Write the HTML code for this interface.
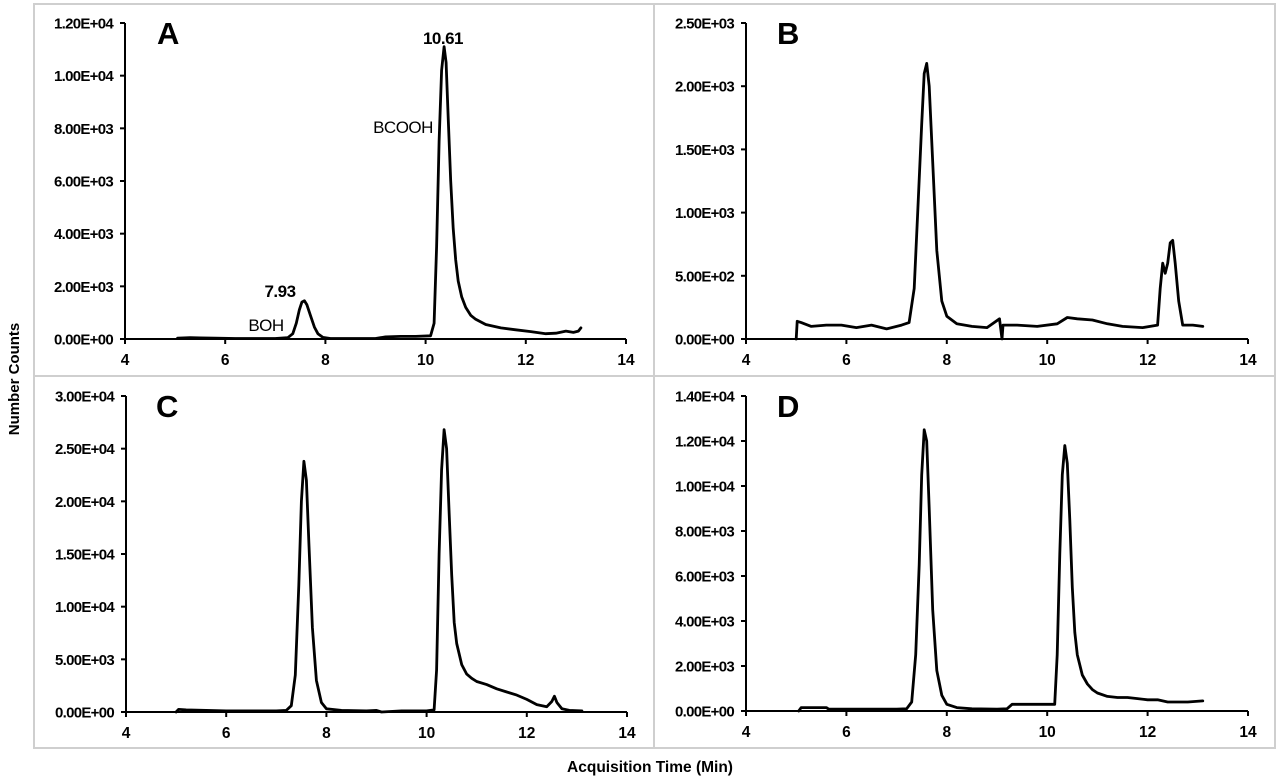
<!DOCTYPE html>
<html><head><meta charset="utf-8"><style>
html,body{margin:0;padding:0;background:#fff}
svg{display:block;font-family:"Liberation Sans",Arial,sans-serif}
</style></head><body>
<svg id="fig" width="1280" height="784" viewBox="0 0 1280 784">
<rect x="0" y="0" width="1280" height="784" fill="#fff"/>
<rect x="34" y="4" width="620" height="372" fill="#fff" stroke="#cfcfcf" stroke-width="2"/>
<rect x="654" y="4" width="621" height="372" fill="#fff" stroke="#cfcfcf" stroke-width="2"/>
<rect x="34" y="376" width="620" height="372" fill="#fff" stroke="#cfcfcf" stroke-width="2"/>
<rect x="654" y="376" width="621" height="372" fill="#fff" stroke="#cfcfcf" stroke-width="2"/>
<text x="15" y="379" transform="rotate(-90 15 379)" text-anchor="middle" dominant-baseline="middle" font-size="15" font-weight="bold">Number Counts</text>
<text x="650" y="772" text-anchor="middle" font-size="15.5" font-weight="bold">Acquisition  Time (Min)</text>
<g id="plots"></g>
</svg>
<script>
const xTickValues = [4, 6, 8, 10, 12, 14];
const xTickLabels = ["4", "6", "8", "10", "12", "14"];

const yTicksA = [0, 2000, 4000, 6000, 8000, 10000, 12000];
const yLabelsA = ["0.00E+00","2.00E+03","4.00E+03","6.00E+03","8.00E+03","1.00E+04","1.20E+04"];
const yTicksB = [0, 500, 1000, 1500, 2000, 2500];
const yLabelsB = ["0.00E+00","5.00E+02","1.00E+03","1.50E+03","2.00E+03","2.50E+03"];
const yTicksC = [0, 5000, 10000, 15000, 20000, 25000, 30000];
const yLabelsC = ["0.00E+00","5.00E+03","1.00E+04","1.50E+04","2.00E+04","2.50E+04","3.00E+04"];
const yTicksD = [0, 2000, 4000, 6000, 8000, 10000, 12000, 14000];
const yLabelsD = ["0.00E+00","2.00E+03","4.00E+03","6.00E+03","8.00E+03","1.00E+04","1.20E+04","1.40E+04"];

const timeA = [5.05,5.3,5.5,5.8,6.2,6.6,7.0,7.25,7.35,7.42,7.48,7.53,7.58,7.63,7.7,7.78,7.85,7.95,8.1,8.5,9.0,9.2,9.5,9.8,10.1,10.17,10.22,10.27,10.32,10.37,10.41,10.45,10.5,10.55,10.6,10.65,10.72,10.8,10.9,11.0,11.2,11.5,11.8,12.1,12.4,12.6,12.8,12.95,13.05,13.1];
const countsA = [30,50,40,30,20,20,20,50,200,600,1100,1400,1450,1300,900,450,200,60,20,20,20,80,100,100,120,600,3500,7500,10200,11100,10500,8500,6000,4200,3000,2200,1600,1200,900,750,550,420,350,280,200,220,300,250,300,420];

const timeB = [5.0,5.02,5.1,5.3,5.6,5.9,6.2,6.5,6.8,7.1,7.25,7.35,7.42,7.5,7.55,7.6,7.65,7.72,7.8,7.9,8.0,8.2,8.5,8.8,9.05,9.1,9.12,9.15,9.4,9.8,10.2,10.4,10.6,10.9,11.2,11.5,11.9,12.2,12.25,12.3,12.35,12.4,12.45,12.5,12.55,12.62,12.7,12.9,13.1];
const countsB = [0,140,130,100,110,110,90,110,80,110,130,400,1000,1700,2100,2180,2000,1400,700,300,180,120,100,90,160,0,110,110,110,100,120,170,160,150,120,100,90,110,400,600,520,600,760,780,600,300,110,110,100];

const timeC = [5.0,5.05,5.2,5.6,6.0,6.5,7.0,7.2,7.3,7.38,7.45,7.5,7.55,7.6,7.65,7.72,7.8,7.9,8.0,8.3,8.8,9.0,9.1,9.5,10.0,10.15,10.2,10.25,10.3,10.35,10.4,10.45,10.5,10.55,10.6,10.7,10.8,10.9,11.0,11.2,11.4,11.6,11.8,12.0,12.2,12.4,12.5,12.55,12.6,12.7,12.85,13.1];
const countsC = [0,250,200,150,100,100,100,150,600,3500,12000,20000,23800,22000,16000,8000,3000,900,300,150,100,150,0,100,100,200,4000,15000,23000,26800,25000,19000,13000,8500,6500,4500,3600,3200,2900,2600,2200,1900,1600,1200,700,500,1000,1500,900,300,150,100];

const timeD = [5.05,5.1,5.2,5.6,5.65,6.0,6.5,7.0,7.2,7.3,7.38,7.45,7.5,7.55,7.6,7.65,7.72,7.8,7.9,8.0,8.2,8.5,9.0,9.2,9.3,9.6,10.0,10.15,10.2,10.25,10.3,10.35,10.4,10.45,10.5,10.55,10.6,10.7,10.8,10.9,11.0,11.2,11.4,11.6,11.8,12.0,12.2,12.4,12.8,13.1];
const countsD = [0,150,150,150,80,80,80,80,100,400,2500,6500,10500,12500,12000,9000,4500,1800,700,300,150,100,80,100,300,300,300,300,2500,7000,10500,11800,11000,8500,5500,3500,2500,1600,1200,950,800,650,600,600,550,500,500,400,400,450];

const NS = "http://www.w3.org/2000/svg";
const root = document.getElementById("plots");
function mk(tag, attrs, parent) {
  const e = document.createElementNS(NS, tag);
  for (const k in attrs) e.setAttribute(k, attrs[k]);
  (parent || root).appendChild(e);
  return e;
}

const panels = [
  {id:"a", letter:"A", px0:125, px1:626, py0:339, py1:23, ymax:12000, yt:yTicksA, yl:yLabelsA, t:timeA, c:countsA, lx:157, ly:44},
  {id:"b", letter:"B", px0:746, px1:1248, py0:339, py1:23, ymax:2500, yt:yTicksB, yl:yLabelsB, t:timeB, c:countsB, lx:777, ly:44},
  {id:"c", letter:"C", px0:126, px1:627, py0:712, py1:396, ymax:30000, yt:yTicksC, yl:yLabelsC, t:timeC, c:countsC, lx:156, ly:417},
  {id:"d", letter:"D", px0:746, px1:1248, py0:711, py1:396, ymax:14000, yt:yTicksD, yl:yLabelsD, t:timeD, c:countsD, lx:777, ly:417}
];

panels.forEach(p => {
  const g = mk("g", {});
  
  
  const xs = v => p.px0 + (v - 4) / 10 * (p.px1 - p.px0);
  const ys = v => p.py0 - v / p.ymax * (p.py0 - p.py1);

  const ya = mk("line", {x1:p.px0, y1:p.py1, x2:p.px0, y2:p.py0, stroke:"#000", "stroke-width":2}, g);
  
  
  const xa = mk("line", {x1:p.px0, y1:p.py0, x2:p.px1, y2:p.py0, stroke:"#000", "stroke-width":2}, g);
  
  

  p.yt.forEach((v, i) => {
    const y = ys(v);
    mk("line", {x1:p.px0 - 5, y1:y, x2:p.px0, y2:y, stroke:"#000", "stroke-width":2}, g);
    const t = mk("text", {x:p.px0 - 12, y:y + 5.5, "text-anchor":"end", "font-size":15, "font-weight":"bold", "letter-spacing":"-0.7"}, g);
    t.textContent = p.yl[i];
    
    
  });
  xTickValues.forEach((v, i) => {
    const x = xs(v);
    mk("line", {x1:x, y1:p.py0, x2:x, y2:p.py0 + 5, stroke:"#000", "stroke-width":2}, g);
    const t = mk("text", {x:x, y:p.py0 + 26, "text-anchor":"middle", "font-size":15.5, "font-weight":"bold"}, g);
    t.textContent = xTickLabels[i];
    
    
  });

  const pts = p.t.map((v, i) => xs(v).toFixed(1) + "," + ys(p.c[i]).toFixed(1)).join(" ");
  const line = mk("polyline", {points:pts, fill:"none", stroke:"#000", "stroke-width":2.8, "stroke-linejoin":"round", "stroke-linecap":"round"}, g);
  
  

  const L = mk("text", {x:p.lx, y:p.ly, "font-size":31, "font-weight":"bold"}, g);
  L.textContent = p.letter;
  
  
});

const ann = [["7.93", 280, 297, "bold"], ["10.61", 443, 44, "bold"], ["BOH", 266, 331, "normal"], ["BCOOH", 403, 133, "normal"]];
ann.forEach(a => {
  const t = mk("text", {x:a[1], y:a[2], "text-anchor":"middle", "font-size":17, "font-weight":a[3], "letter-spacing":"-0.5"});
  t.textContent = a[0];
  
  
});
</script>
</body></html>
